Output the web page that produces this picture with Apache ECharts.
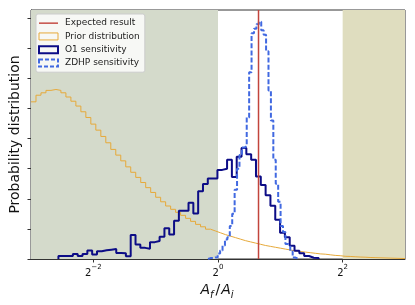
<!DOCTYPE html>
<html><head><meta charset="utf-8">
<script src="https://cdn.jsdelivr.net/npm/echarts@6/dist/echarts.min.js"></script>
<style>html,body{margin:0;padding:0;background:#fff}#c{width:415px;height:305px}</style>
</head><body><div id="c"></div>
<script>
// x axis is log2(A_f / A_i)
const xTickExponents = [-2, 0, 2];
const yTicks = [0, 1, 2, 3, 4, 5, 6, 7, 8];
const expectedLog2 = 0.65;
const shadedLow = [-3, 0];
const shadedHigh = [2, 3];

const priorStart = -3.0, priorWidth = 0.08;
const priorValues = [5.22,5.44,5.52,5.60,5.63,5.60,5.52,5.38,5.24,5.08,
  4.89,4.70,4.48,4.28,4.07,3.86,3.64,3.45,3.26,3.06,
  2.88,2.71,2.54,2.37,2.21,2.05,1.90,1.76,1.65,1.55,
  1.45,1.35,1.25,1.15,1.07,0.99,0.93,0.87,0.81,0.76,
  0.71,0.66,0.61,0.57,0.53,0.49,0.45,0.42,0.39,0.36,
  0.33,0.30,0.27,0.25,0.23,0.21,0.19,0.17,0.16,0.14,
  0.12,0.11,0.09,0.085,0.075,0.065,0.06,0.05,0.045,0.04,
  0.035,0.03,0.025,0.02,0.015];

const o1Start = -2.56, o1Width = 0.0773;
const o1Values = [0.10,0.10,0.10,0.17,0.10,0.17,0.28,0.15,0.26,0.29,
  0.31,0.33,0.20,0.19,0.09,0.80,0.48,0.37,0.34,0.56,
  0.60,0.74,1.02,0.81,1.27,1.60,1.60,1.87,1.51,2.25,
  2.49,2.67,2.67,2.96,3.00,3.30,2.72,3.40,3.69,3.48,
  3.30,2.74,2.46,2.12,1.77,1.30,0.87,0.72,0.44,0.27,
  0.19,0.10,0.04,0.03];

const zdhpStart = -0.16, zdhpWidth = 0.0388;
const zdhpValues = [0.03,0.03,0.05,0.05,0.18,0.28,0.45,0.65,0.72,1.10,
  1.50,2.30,3.00,3.45,3.70,3.75,4.70,6.20,7.50,7.65,
  7.80,7.88,7.60,7.45,6.90,5.60,4.60,3.30,2.50,1.90,
  1.10,0.90,0.50,0.45,0.25,0.05,0.02];

const yMax = 8.27;
const FONT = 'DejaVu Sans';
const cPrior = '#e6a93a', cO1 = '#0c0c86', cZ = '#4169e1', cExp = '#c2443c';

function stepData(start, width, vals, openStart) {
  const d = openStart ? [] : [[start, 0]];
  vals.forEach((v, i) => d.push([start + i * width, v]));
  d.push([start + vals.length * width, 0]);
  return d;
}

const chart = echarts.init(document.getElementById('c'), null, {renderer: 'canvas'});
chart.setOption({
  animation: false,
  backgroundColor: '#fff',
  grid: {left: 30, right: 10, top: 10, bottom: 42, show: true, borderColor: '#333', borderWidth: 1, backgroundColor: 'transparent'},
  legend: {
    orient: 'vertical', left: 36, top: 14,
    padding: [4, 5, 4, 2], itemGap: 3,
    itemWidth: 19, itemHeight: 7,
    backgroundColor: 'rgba(255,255,255,0.8)', borderColor: '#cccccc', borderWidth: 1, borderRadius: 2,
    textStyle: {fontFamily: FONT, fontSize: 9, color: '#222', lineHeight: 10.3, padding: [0, 0, 0, 2]},
    data: [
      {name: 'Expected result', icon: 'path://M0,0H40V3H0Z', itemStyle: {color: cExp, borderWidth: 0}},
      {name: 'Prior distribution', icon: 'rect', itemStyle: {color: 'rgba(255,255,255,0)', borderColor: cPrior, borderWidth: 1}},
      {name: 'O1 sensitivity', icon: 'rect', itemStyle: {color: 'rgba(255,255,255,0)', borderColor: cO1, borderWidth: 2}},
      {name: 'ZDHP sensitivity', icon: 'rect', itemStyle: {color: 'rgba(255,255,255,0)', borderColor: cZ, borderWidth: 2, borderType: [4, 2]}}
    ]
  },
  xAxis: {
    type: 'value', min: -3, max: 3, interval: 1,
    axisLine: {show: true, onZero: false, lineStyle: {color: '#333'}},
    axisTick: {show: true, customValues: xTickExponents, length: 3.5, lineStyle: {color: '#333'}},
    splitLine: {show: false},
    axisLabel: {
      customValues: xTickExponents, margin: 5,
      formatter: v => '{b|2}{p|' + (v < 0 ? '\u2212' : '') + Math.abs(v) + '}',
      rich: {
        b: {fontFamily: FONT, fontSize: 10, color: '#111', lineHeight: 14, verticalAlign: 'bottom'},
        p: {fontFamily: FONT, fontSize: 7, color: '#111', lineHeight: 8, verticalAlign: 'top'}
      }
    },
    name: '{i|A}{s|f}{n|/}{i|A}{s|i}', nameLocation: 'middle', nameGap: 21,
    nameTextStyle: {
      rich: {
        i: {fontFamily: FONT, fontStyle: 'italic', fontSize: 14, color: '#111', lineHeight: 20, verticalAlign: 'middle'},
        s: {fontFamily: FONT, fontStyle: 'italic', fontSize: 10, color: '#111', lineHeight: 11, verticalAlign: 'bottom', padding: [0, 2, 0, 0]},
        n: {fontFamily: FONT, fontSize: 14, color: '#111', lineHeight: 20, verticalAlign: 'middle', padding: [0, 1, 0, 0]}
      }
    }
  },
  yAxis: {
    type: 'value', min: 0, max: yMax, interval: 1,
    axisLine: {show: true, onZero: false, lineStyle: {color: '#333'}},
    axisTick: {show: true, customValues: yTicks, length: 3.5, lineStyle: {color: '#333'}},
    axisLabel: {show: false},
    splitLine: {show: false},
    name: 'Probability distribution', nameLocation: 'middle', nameGap: 9,
    nameTextStyle: {fontFamily: FONT, fontSize: 14, color: '#111'}
  },
  series: [
    {
      name: 'shade', type: 'line', data: [], z: 0, silent: true,
      markArea: {
        silent: true,
        itemStyle: {borderWidth: 0},
        data: [
          [{xAxis: shadedLow[0], itemStyle: {color: '#d4dacb'}}, {xAxis: shadedLow[1]}],
          [{xAxis: shadedHigh[0], itemStyle: {color: '#dfddbf'}}, {xAxis: shadedHigh[1]}]
        ]
      }
    },
    {
      name: 'Prior distribution', type: 'line', step: 'end', symbol: 'none', showSymbol: false, z: 2,
      lineStyle: {color: cPrior, width: 1}, itemStyle: {color: cPrior},
      data: stepData(priorStart, priorWidth, priorValues, true)
    },
    {
      name: 'O1 sensitivity', type: 'line', step: 'end', symbol: 'none', showSymbol: false, z: 3,
      lineStyle: {color: cO1, width: 2}, itemStyle: {color: cO1},
      data: stepData(o1Start, o1Width, o1Values, false)
    },
    {
      name: 'ZDHP sensitivity', type: 'line', step: 'end', symbol: 'none', showSymbol: false, z: 4,
      lineStyle: {color: cZ, width: 2, type: [5, 2.2]}, itemStyle: {color: cZ},
      data: stepData(zdhpStart, zdhpWidth, zdhpValues, false)
    },
    {
      name: 'Expected result', type: 'line', symbol: 'none', showSymbol: false, z: 5,
      lineStyle: {color: cExp, width: 1.5}, itemStyle: {color: cExp},
      data: [[expectedLog2, 0], [expectedLog2, yMax]]
    }
  ]
});
</script></body></html>
